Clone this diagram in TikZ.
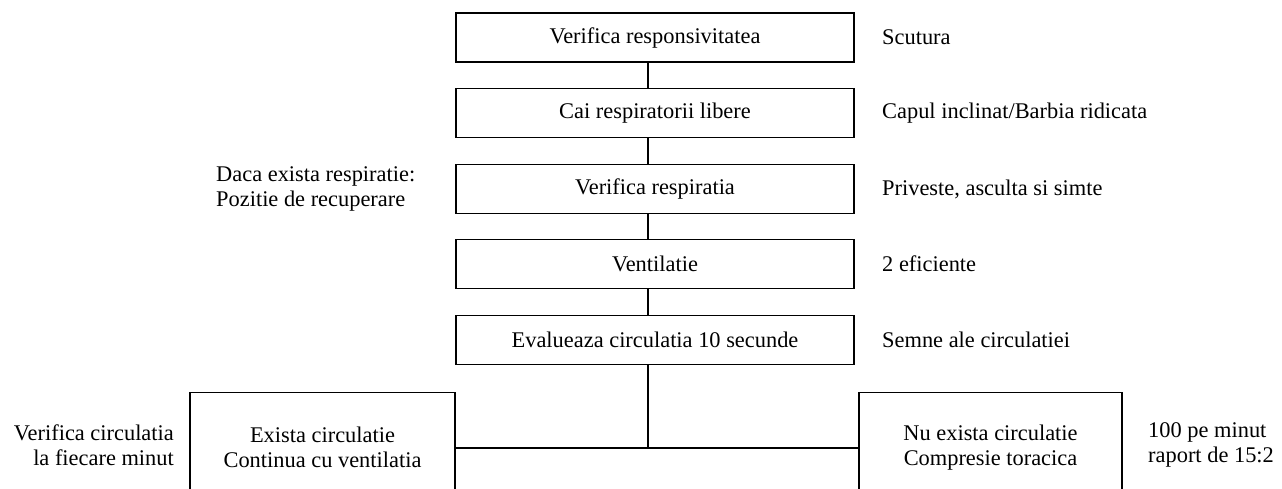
\documentclass[tikz,border=0pt]{standalone}
\usepackage{fontspec}
\setmainfont{Liberation Serif}
\begin{document}
\begin{tikzpicture}[x=1pt,y=-1pt,
  every node/.style={font=\fontsize{22.4}{25}\selectfont, inner sep=0pt},
  stepbox/.style={draw, line width=1.2pt, minimum width=398pt, minimum height=49pt},
  branchbox/.style={draw, line width=1.2pt, minimum height=110pt, anchor=north, align=center},
  sidenote/.style={anchor=west, align=left},
  link/.style={line width=2pt}]
\clip (0,0) rectangle (1282,488);
\fill[white] (0,0) rectangle (1282,488);
\coordinate (spine) at (648,0);

\node[stepbox] (b1) at (655,37.5) {Verifica responsivitatea};
\node[stepbox] (b2) at (655,113) {Cai respiratorii libere};
\node[stepbox] (b3) at (655,189) {Verifica respiratia};
\node[stepbox] (b4) at (655,264) {Ventilatie};
\node[stepbox] (b5) at (655,340) {Evalueaza circulatia 10 secunde};

\node[sidenote] (n1) at (882,37.5) {Scutura};
\node[sidenote] (n2) at (882,113) {Capul inclinat/Barbia ridicata};
\node[sidenote] (n3) at (882,189) {Priveste, asculta si simte};
\node[sidenote] (n4) at (882,264) {2 eficiente};
\node[sidenote] (n5) at (882,340) {Semne ale circulatiei};

\node[sidenote] (nl3) at (216,189) {Daca exista respiratie:\\Pozitie de recuperare};

\node[branchbox, minimum width=265pt] (lbox) at (322.5,392) {Exista circulatie\\Continua cu ventilatia};
\node[branchbox, minimum width=263pt] (rbox) at (990.5,392) {Nu exista circulatie\\Compresie toracica};

\node[anchor=east, align=right] (nl6) at (174,445) {Verifica circulatia\\la fiecare minut};
\node[sidenote] (nr6) at (1148,445) {100 pe minut\\raport de 15:2};

\coordinate (junction) at (spine |- lbox.east);
\draw[link] (b1.south -| spine) -- (b2.north -| spine);
\draw[link] (b2.south -| spine) -- (b3.north -| spine);
\draw[link] (b3.south -| spine) -- (b4.north -| spine);
\draw[link] (b4.south -| spine) -- (b5.north -| spine);
\draw[link] (b5.south -| spine) -- (junction);
\draw[link] (lbox.east) -- (rbox.west);
\end{tikzpicture}
\end{document}
